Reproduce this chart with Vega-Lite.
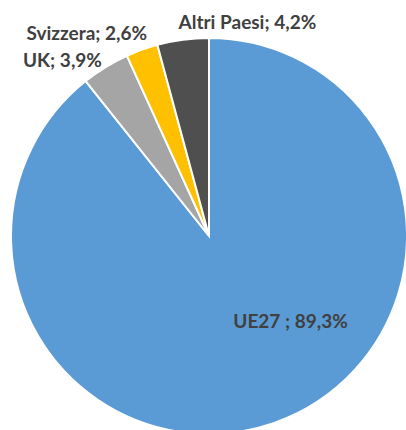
{
  "$schema": "https://vega.github.io/schema/vega-lite/v6.json",
  "width": 396,
  "height": 396,
  "autosize": "none",
  "padding": {"left": 11, "top": 38, "right": 0, "bottom": 0},
  "background": "white",
  "data": {
    "values": [
      {"country": "UE27", "share": 89.3, "ord": 1, "label": "UE27 ; 89,3%"},
      {"country": "UK", "share": 3.9, "ord": 2, "label": "UK; 3,9%"},
      {"country": "Svizzera", "share": 2.6, "ord": 3, "label": "Svizzera; 2,6%"},
      {"country": "Altri Paesi", "share": 4.2, "ord": 4, "label": "Altri Paesi; 4,2%"}
    ]
  },
  "encoding": {
    "theta": {"field": "share", "type": "quantitative", "stack": true},
    "order": {"field": "ord", "type": "quantitative"}
  },
  "layer": [
    {
      "mark": {"type": "arc", "stroke": "white", "strokeWidth": 2},
      "encoding": {
        "color": {
          "field": "country",
          "type": "nominal",
          "scale": {
            "domain": ["UE27", "UK", "Svizzera", "Altri Paesi"],
            "range": ["#5B9BD5", "#A5A5A5", "#FFC000", "#4F4F4F"]
          },
          "legend": null
        }
      }
    },
    {
      "mark": {"type": "text", "radius": 120, "dx": 42, "dy": -27, "font": "Lato", "fontWeight": "bold", "fontSize": 19, "color": "#404040", "align": "center", "baseline": "middle"},
      "encoding": {"text": {"condition": {"test": "datum.country === 'UE27'", "field": "label"}, "value": ""}}
    },
    {
      "mark": {"type": "text", "radius": 225, "dx": -29, "dy": 17, "font": "Lato", "fontWeight": "bold", "fontSize": 19, "color": "#404040", "align": "center", "baseline": "middle"},
      "encoding": {"text": {"condition": {"test": "datum.country === 'UK'", "field": "label"}, "value": ""}}
    },
    {
      "mark": {"type": "text", "radius": 225, "dx": -46, "dy": 10, "font": "Lato", "fontWeight": "bold", "fontSize": 19, "color": "#404040", "align": "center", "baseline": "middle"},
      "encoding": {"text": {"condition": {"test": "datum.country === 'Svizzera'", "field": "label"}, "value": ""}}
    },
    {
      "mark": {"type": "text", "radius": 225, "dx": 68, "dy": 10, "font": "Lato", "fontWeight": "bold", "fontSize": 19, "color": "#404040", "align": "center", "baseline": "middle"},
      "encoding": {"text": {"condition": {"test": "datum.country === 'Altri Paesi'", "field": "label"}, "value": ""}}
    }
  ]
}
